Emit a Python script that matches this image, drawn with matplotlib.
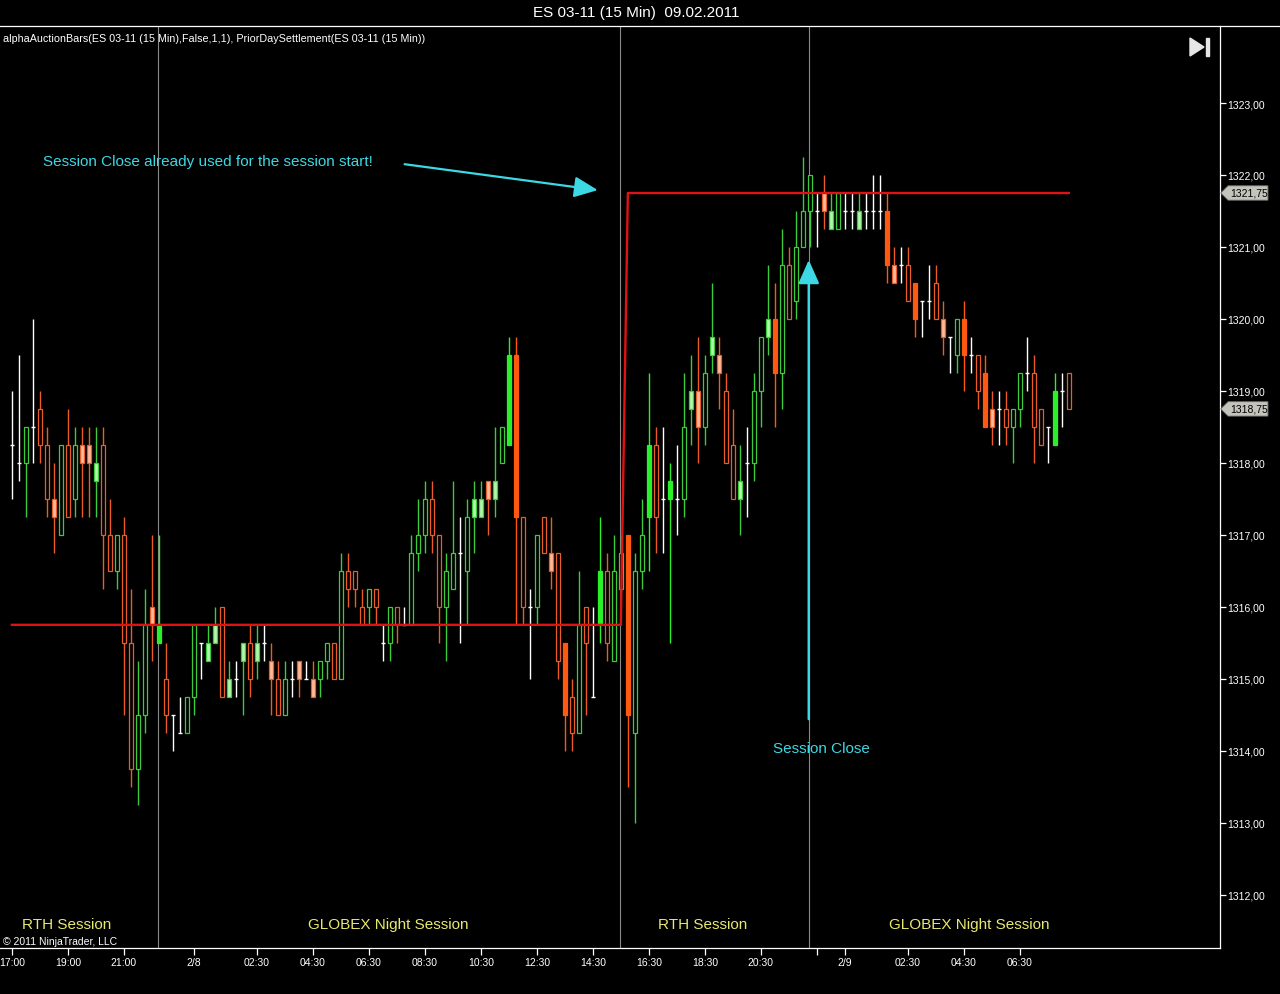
import numpy as np
import matplotlib
matplotlib.use('Agg')
import matplotlib.pyplot as plt
from matplotlib.patches import Rectangle, Polygon
from matplotlib.lines import Line2D

plt.rcParams['font.family'] = ['Liberation Sans', 'DejaVu Sans']

# ES 03-11, 15 min bars, 17:00 (7.2.) .. 08:15 (9.2.)
opens = [
    1318.25, 1318.0, 1318.0, 1318.5, 1318.75, 1318.25, 1317.5, 1317.0, 1318.25, 1317.5,
    1318.25, 1318.25, 1317.75, 1318.25, 1317.0, 1316.5, 1317.0, 1315.5, 1313.75, 1314.5,
    1316.0, 1315.5, 1315.0, 1314.5, 1314.25, 1314.25, 1314.75, 1315.5, 1315.25, 1315.5,
    1316.0, 1314.75, 1315.0, 1315.25, 1315.5, 1315.25, 1315.5, 1315.25, 1315.0, 1314.5,
    1315.0, 1315.25, 1315.0, 1315.0, 1315.0, 1315.25, 1315.5, 1315.0, 1316.5, 1316.5,
    1316.0, 1316.0, 1316.25, 1315.5, 1315.5, 1316.0, 1315.75, 1315.75, 1316.75, 1317.0,
    1317.5, 1317.0, 1316.0, 1316.25, 1316.75, 1316.5, 1317.25, 1317.25, 1317.75, 1317.5,
    1318.0, 1318.25, 1319.5, 1317.25, 1316.0, 1316.0, 1317.25, 1316.75, 1316.75, 1315.5,
    1314.75, 1314.25, 1316.0, 1314.75, 1315.75, 1316.5, 1315.25, 1316.25, 1317.0, 1314.25,
    1316.5, 1317.25, 1318.25, 1317.5, 1317.5, 1317.5, 1317.5, 1318.75, 1319.0, 1318.5,
    1319.5, 1319.5, 1319.0, 1318.25, 1317.5, 1318.0, 1318.0, 1319.0, 1319.75, 1320.0,
    1319.25, 1320.75, 1320.25, 1321.0, 1321.5, 1321.5, 1321.75, 1321.25, 1321.25, 1321.5,
    1321.5, 1321.25, 1321.5, 1321.5, 1321.5, 1321.5, 1320.75, 1320.75, 1320.75, 1320.5,
    1320.25, 1320.25, 1320.5, 1320.0, 1319.75, 1319.5, 1320.0, 1319.5, 1319.5, 1319.25,
    1318.75, 1318.75, 1318.75, 1318.5, 1318.75, 1319.25, 1319.25, 1318.75, 1318.5, 1318.25,
    1319.0, 1319.25]
highs = [
    1319.0, 1319.5, 1318.5, 1320.0, 1319.0, 1318.5, 1318.0, 1318.25, 1318.75, 1318.5,
    1318.5, 1318.5, 1318.5, 1318.5, 1317.5, 1317.0, 1317.25, 1316.25, 1315.25, 1316.25,
    1317.0, 1317.0, 1315.5, 1314.5, 1314.75, 1314.75, 1315.75, 1315.5, 1315.75, 1316.0,
    1316.0, 1315.25, 1315.25, 1315.5, 1315.75, 1315.75, 1315.75, 1315.5, 1315.25, 1315.25,
    1315.25, 1315.25, 1315.25, 1315.25, 1315.25, 1315.5, 1315.5, 1316.75, 1316.75, 1316.5,
    1316.25, 1316.25, 1316.25, 1315.75, 1316.0, 1316.0, 1316.0, 1317.0, 1317.5, 1317.75,
    1317.75, 1317.0, 1316.75, 1317.75, 1317.25, 1317.5, 1317.75, 1317.75, 1317.75, 1318.5,
    1318.5, 1319.75, 1319.75, 1317.25, 1316.25, 1317.0, 1317.25, 1317.25, 1316.75, 1315.5,
    1315.0, 1316.5, 1316.0, 1316.0, 1317.25, 1316.75, 1317.0, 1317.0, 1317.0, 1316.75,
    1317.5, 1319.25, 1318.5, 1318.5, 1318.0, 1318.25, 1319.25, 1319.5, 1319.75, 1319.5,
    1320.5, 1319.75, 1319.25, 1318.75, 1318.25, 1318.5, 1319.25, 1319.75, 1320.75, 1320.5,
    1321.25, 1321.0, 1321.5, 1322.25, 1322.0, 1321.75, 1322.0, 1321.75, 1321.75, 1321.75,
    1321.75, 1321.75, 1321.75, 1322.0, 1322.0, 1321.75, 1321.0, 1321.0, 1321.0, 1320.5,
    1320.25, 1320.75, 1320.75, 1320.25, 1319.75, 1320.0, 1320.25, 1319.75, 1319.5, 1319.5,
    1319.0, 1319.0, 1319.0, 1318.75, 1319.25, 1319.75, 1319.5, 1318.75, 1318.5, 1319.25,
    1319.25, 1319.25]
lows = [
    1317.5, 1317.75, 1317.25, 1318.0, 1318.0, 1317.25, 1316.75, 1317.0, 1317.25, 1317.25,
    1317.25, 1317.25, 1317.25, 1316.25, 1316.5, 1316.25, 1314.5, 1313.5, 1313.25, 1314.25,
    1315.25, 1315.5, 1314.25, 1314.0, 1314.25, 1314.25, 1314.5, 1315.0, 1315.25, 1315.5,
    1314.75, 1314.75, 1314.75, 1314.5, 1314.75, 1315.0, 1315.25, 1314.5, 1314.5, 1314.5,
    1314.75, 1314.75, 1315.0, 1314.75, 1314.75, 1315.0, 1315.0, 1315.0, 1316.0, 1316.0,
    1315.75, 1315.75, 1315.75, 1315.25, 1315.25, 1315.5, 1315.75, 1315.75, 1316.5, 1316.75,
    1316.75, 1315.5, 1315.25, 1316.25, 1315.5, 1315.75, 1316.75, 1317.25, 1317.0, 1317.25,
    1318.0, 1318.25, 1315.75, 1315.75, 1315.0, 1315.75, 1316.75, 1316.25, 1315.0, 1314.0,
    1314.0, 1314.25, 1314.5, 1314.75, 1315.5, 1315.25, 1315.25, 1316.25, 1313.5, 1313.0,
    1316.25, 1316.5, 1316.75, 1316.75, 1315.5, 1317.0, 1317.25, 1318.25, 1318.0, 1318.25,
    1319.25, 1318.75, 1318.0, 1317.5, 1317.0, 1317.25, 1317.75, 1318.5, 1319.5, 1318.5,
    1318.75, 1320.0, 1320.0, 1321.0, 1321.0, 1321.0, 1321.25, 1321.25, 1321.25, 1321.25,
    1321.25, 1321.25, 1321.25, 1321.25, 1321.25, 1320.5, 1320.5, 1320.5, 1320.25, 1319.75,
    1319.75, 1320.0, 1320.0, 1319.5, 1319.25, 1319.25, 1319.0, 1319.25, 1318.75, 1318.5,
    1318.25, 1318.25, 1318.25, 1318.0, 1318.5, 1319.0, 1318.0, 1318.25, 1318.0, 1318.25,
    1318.5, 1318.75]
closes = [
    1318.25, 1318.0, 1318.5, 1318.5, 1318.25, 1317.5, 1317.25, 1318.25, 1317.25, 1318.25,
    1318.0, 1318.0, 1318.0, 1317.0, 1316.5, 1317.0, 1315.5, 1313.75, 1314.5, 1315.75,
    1315.75, 1315.75, 1314.5, 1314.5, 1314.25, 1314.75, 1315.75, 1315.5, 1315.5, 1315.75,
    1314.75, 1315.0, 1315.0, 1315.5, 1315.0, 1315.5, 1315.5, 1315.0, 1314.5, 1315.0,
    1315.0, 1315.0, 1315.0, 1314.75, 1315.25, 1315.5, 1315.0, 1316.5, 1316.25, 1316.25,
    1315.75, 1316.25, 1316.0, 1315.5, 1316.0, 1315.75, 1315.75, 1316.75, 1317.0, 1317.5,
    1317.0, 1316.0, 1316.5, 1316.75, 1316.75, 1317.25, 1317.5, 1317.5, 1317.5, 1317.75,
    1318.5, 1319.5, 1317.25, 1316.0, 1316.0, 1317.0, 1316.75, 1316.5, 1315.25, 1314.5,
    1314.25, 1315.75, 1315.5, 1314.75, 1316.5, 1315.5, 1316.5, 1316.75, 1314.5, 1316.5,
    1317.0, 1318.25, 1317.25, 1317.5, 1317.75, 1317.5, 1318.5, 1319.0, 1318.5, 1319.25,
    1319.75, 1319.25, 1318.0, 1317.5, 1317.75, 1318.0, 1319.0, 1319.75, 1320.0, 1319.25,
    1320.75, 1320.0, 1321.0, 1321.5, 1322.0, 1321.5, 1321.5, 1321.5, 1321.75, 1321.5,
    1321.5, 1321.5, 1321.5, 1321.5, 1321.5, 1320.75, 1320.5, 1320.75, 1320.25, 1320.0,
    1320.25, 1320.25, 1320.0, 1319.75, 1319.75, 1320.0, 1319.5, 1319.5, 1319.0, 1318.5,
    1318.5, 1318.75, 1318.5, 1318.75, 1319.25, 1319.25, 1318.5, 1318.25, 1318.5, 1319.0,
    1319.0, 1318.75]
# auction bar type: h = normal (hollow), f = strong (solid), p = weak (pale)
bar_kind = ("hhhhhhphhh" "ppphhhhhhh" "pfhhhhhhpp" "hphphphphh" "hphphhhhhh"
            "hhhhhhhhhh" "hhhhhhpppp" "hffhhhhphf" "hhhhfhhhfh" "hfhhfhhpph"
            "pphhphhhpf" "hhhhhhpphh" "hphhhfphhf" "hhhphhfhhf" "phhhhhhhhf" "hh")

settle_levels = [1315.75, 1321.75]
settle_change_bar = 88
session_last_bar = [21, 87, 114]
session_names = ['RTH Session', 'GLOBEX Night Session', 'RTH Session', 'GLOBEX Night Session']

xtick_bars = [0, 8, 16, 26, 35, 43, 51, 59, 67, 75, 83, 91, 99, 107, 115, 119, 128, 136, 144]
xtick_labels = ['17:00', '19:00', '21:00', '2/8', '02:30', '04:30', '06:30', '08:30', '10:30',
                '12:30', '14:30', '16:30', '18:30', '20:30', '', '2/9', '02:30', '04:30', '06:30']

W, H = 1280, 995
def px(x, y):
    return x / W, 1 - y / H

GREEN = '#3ccc3c'
ORANGE = '#ea5c28'
GREEN_F = '#2af02a'
ORANGE_F = '#ff5810'
GREEN_P = '#b2f7aa'
ORANGE_P = '#ffbc9c'
CYAN = '#3cd8e4'
YELLOW = '#e8e870'

fig = plt.figure(figsize=(12.8, 9.95), dpi=100, facecolor='black')
ax = fig.add_axes([0, 1 - 949 / H, 1220 / W, (949 - 27) / H])
ax.set_facecolor('black')
ax.set_xlim(-1.7, 172.6)
ax.set_ylim(1311.26, 1324.07)

# session separators
for b in session_last_bar:
    ax.axvline(b - 0.15, color='#8a8a8a', lw=0.8, zorder=1)

# bars
bw = 0.5
for i in range(len(opens)):
    o, h, l, c, k = opens[i], highs[i], lows[i], closes[i], bar_kind[i]
    if o == c:
        ax.vlines(i, l, h, color='white', lw=1.0, zorder=3)
        ax.hlines(o, i - 0.3, i + 0.3, color='white', lw=1.0, zorder=3)
        continue
    up = c > o
    col = (GREEN_F if k == 'f' else GREEN) if up else (ORANGE_F if k == 'f' else ORANGE)
    if k == 'f':
        face = col
    elif k == 'p':
        face = GREEN_P if up else ORANGE_P
    else:
        face = 'black'
    ax.vlines(i, l, h, color=col, lw=1.0, zorder=2)
    ax.add_patch(Rectangle((i - bw / 2, min(o, c)), bw, abs(c - o),
                           facecolor=face, edgecolor=col, lw=0.9, zorder=3))

# prior day settlement
xb = np.arange(len(opens))
settle = np.where(xb < settle_change_bar, settle_levels[0], settle_levels[1])
ax.plot(xb, settle, color='#e01212', lw=1.7, zorder=4)

# axes styling
for s in ['left', 'top']:
    ax.spines[s].set_visible(False)
for s in ['right', 'bottom']:
    ax.spines[s].set_color('white')
    ax.spines[s].set_linewidth(0.9)
ax.yaxis.tick_right()
yt = np.arange(1312, 1324)
ax.set_yticks(yt, [f'{v:.2f}'.replace('.', ',') for v in yt])
ax.set_xticks(xtick_bars, xtick_labels)
ax.tick_params(axis='y', colors='white', length=4, width=0.9, labelsize=7.5, pad=1.5)
ax.tick_params(axis='x', colors='white', length=5, width=0.9, labelsize=7.5, pad=1.5)
fig.add_artist(Line2D([0, 1], [1 - 27 / H] * 2, color='white', lw=0.9))

# price markers on the axis
trans = ax.get_yaxis_transform()
for val in [settle_levels[1], closes[-1]]:
    hh = 0.1
    poly = Polygon([(1.0006, val), (1.0066, val + hh), (1.0393, val + hh),
                    (1.0393, val - hh), (1.0066, val - hh)], closed=True,
                   transform=trans, facecolor='#c4c4bc', edgecolor='#707070',
                   lw=0.6, clip_on=False, zorder=5)
    ax.add_patch(poly)
    ax.text(1.0235, val, f'{val:.2f}'.replace('.', ','), transform=trans,
            ha='center', va='center', fontsize=7.5, color='black', zorder=6, clip_on=False)

# titles and labels
fig.text(*px(636, 13), 'ES 03-11 (15 Min)  09.02.2011', color='white', fontsize=11,
         ha='center', va='center')
fig.text(*px(3, 39), 'alphaAuctionBars(ES 03-11 (15 Min),False,1,1), PriorDaySettlement(ES 03-11 (15 Min))',
         color='white', fontsize=7.75, ha='left', va='center')
fig.text(*px(3, 942), '\u00a9 2011 NinjaTrader, LLC', color='white', fontsize=7.5,
         ha='left', va='center')
for name, xc in zip(session_names, [67, 388, 703, 969]):
    fig.text(*px(xc, 925), name, color=YELLOW, fontsize=11, ha='center', va='center')

# play-to-end icon
fig.add_artist(Polygon([px(1190, 39), px(1190, 57), px(1204, 48)], closed=True,
                       transform=fig.transFigure, color='#e6e6e6'))
fig.add_artist(Polygon([px(1206, 39), px(1209, 39), px(1209, 57), px(1206, 57)], closed=True,
                       transform=fig.transFigure, color='#e6e6e6'))

# annotations
fig.text(*px(43, 162), 'Session Close already used for the session start!', color=CYAN,
         fontsize=11, ha='left', va='center')
ax.annotate('', xy=(83.7, 1321.79), xytext=(56.1, 1322.15),
            arrowprops=dict(arrowstyle='-|>,head_length=0.9,head_width=0.4', color=CYAN,
                            lw=1.6, shrinkA=0, shrinkB=0, mutation_scale=16))
fig.text(*px(773, 749), 'Session Close', color=CYAN, fontsize=11, ha='left', va='center')
ax.annotate('', xy=(113.85, 1320.82), xytext=(113.85, 1314.44),
            arrowprops=dict(arrowstyle='-|>,head_length=0.9,head_width=0.4', color=CYAN,
                            lw=1.8, shrinkA=0, shrinkB=0, mutation_scale=16))

fig.savefig('out.png', dpi=100, facecolor='black')
